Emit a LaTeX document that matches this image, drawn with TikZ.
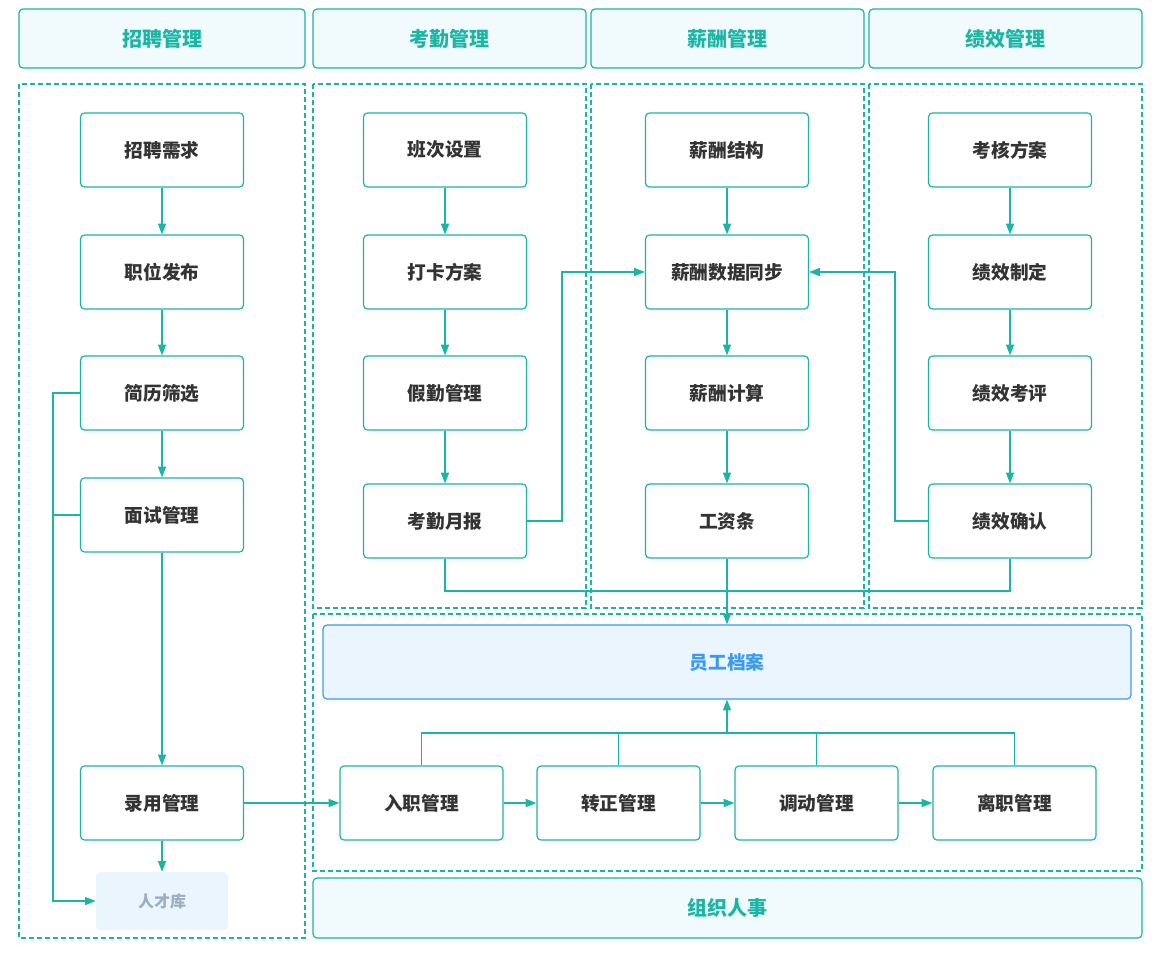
\documentclass[tikz,border=0pt]{standalone}
\usepackage{fontspec}
\newfontfamily\cjk{Noto Sans CJK SC}
\usetikzlibrary{arrows.meta, positioning}
\definecolor{teal1}{HTML}{19B5A5}
\definecolor{headfill}{HTML}{F1FAFD}
\definecolor{blue1}{HTML}{3A9BEF}
\definecolor{bluefill}{HTML}{EAF5FE}
\definecolor{gray1}{HTML}{9AB0BE}
\definecolor{text1}{HTML}{333333}

\tikzset{
    box/.style={draw=teal1, line width=0.9pt, rounded corners=3pt, fill=white,
        minimum width=163*0.75pt, minimum height=74*0.75pt, inner sep=0pt,
        text=text1, font=\cjk\bfseries\fontsize{14pt}{16pt}\selectfont},
    head/.style={draw=teal1, line width=0.9pt, rounded corners=3pt, fill=headfill,
        inner sep=0pt, text=teal1, font=\cjk\bfseries\fontsize{15pt}{17pt}\selectfont},
    panel/.style={draw=teal1, line width=0.8pt, dash pattern=on 4pt off 2pt},
    link/.style={draw=teal1, line width=0.9pt, -{Triangle[length=8pt, width=6pt]}},
    line/.style={draw=teal1, line width=0.9pt},
}

\begin{document}
\begin{tikzpicture}[x=0.75pt, y=-0.75pt]
    \useasboundingbox (0, 0) rectangle (1156, 961);

    % headers
    \node [head, minimum width=286*0.75pt, minimum height=59*0.75pt] (h1) at (162, 38.5) {招聘管理};
    \node [head, minimum width=273*0.75pt, minimum height=59*0.75pt] (h2) at (449.5, 38.5) {考勤管理};
    \node [head, minimum width=273*0.75pt, minimum height=59*0.75pt] (h3) at (727.5, 38.5) {薪酬管理};
    \node [head, minimum width=273*0.75pt, minimum height=59*0.75pt] (h4) at (1005.5, 38.5) {绩效管理};
    \node [head, minimum width=829*0.75pt, minimum height=60*0.75pt] (h5) at (727.5, 908) {组织人事};

    % panels
    \draw [panel] (19, 84) rectangle (305, 938);
    \draw [panel] (313, 84) rectangle (586, 608);
    \draw [panel] (591, 84) rectangle (864, 608);
    \draw [panel] (869, 84) rectangle (1142, 608);
    \draw [panel] (313, 614) rectangle (1142, 871);

    % 招聘
    \node [box] (zpxq) at (162, 150) {招聘需求};
    \node [box] (zwfb) at (162, 272) {职位发布};
    \node [box] (jlsx) at (162, 393) {简历筛选};
    \node [box] (msgl) at (162, 515) {面试管理};
    \node [box] (lygl) at (162, 803) {录用管理};
    \node [fill=bluefill, rounded corners=3pt, minimum width=132*0.75pt, minimum height=58*0.75pt,
        inner sep=0pt, text=gray1, font=\cjk\bfseries\fontsize{12pt}{14pt}\selectfont] (rck) at (162, 901) {人才库};

    % 考勤
    \node [box] (bcsz) at (445, 150) {班次设置};
    \node [box] (dkfa) at (445, 272) {打卡方案};
    \node [box] (jqgl) at (445, 393) {假勤管理};
    \node [box] (kqyb) at (445, 521) {考勤月报};

    % 薪酬
    \node [box] (xcjg) at (727, 150) {薪酬结构};
    \node [box] (xcsj) at (727, 272) {薪酬数据同步};
    \node [box] (xcjs) at (727, 393) {薪酬计算};
    \node [box] (gzt) at (727, 521) {工资条};

    % 绩效
    \node [box] (khfa) at (1010, 150) {考核方案};
    \node [box] (jxzd) at (1010, 272) {绩效制定};
    \node [box] (jxkp) at (1010, 393) {绩效考评};
    \node [box] (jxqr) at (1010, 521) {绩效确认};

    % 组织人事
    \node [box, draw=blue1, fill=bluefill, text=blue1, minimum width=808*0.75pt] (ygda) at (727, 662) {员工档案};
    \node [box] (rzgl) at (421.5, 803) {入职管理};
    \node [box] (zzgl) at (618.5, 803) {转正管理};
    \node [box] (ddgl) at (816.5, 803) {调动管理};
    \node [box] (lzgl) at (1014.5, 803) {离职管理};

    % vertical flows
    \draw [link] (zpxq) -- (zwfb);
    \draw [link] (zwfb) -- (jlsx);
    \draw [link] (jlsx) -- (msgl);
    \draw [link] (msgl) -- (lygl);
    \draw [link] (lygl) -- (rck);
    \draw [link] (bcsz) -- (dkfa);
    \draw [link] (dkfa) -- (jqgl);
    \draw [link] (jqgl) -- (kqyb);
    \draw [link] (xcjg) -- (xcsj);
    \draw [link] (xcsj) -- (xcjs);
    \draw [link] (xcjs) -- (gzt);
    \draw [link] (khfa) -- (jxzd);
    \draw [link] (jxzd) -- (jxkp);
    \draw [link] (jxkp) -- (jxqr);

    % cross links
    \draw [link] (kqyb.east) -| (562, 272) -- (xcsj.west);
    \draw [link] (jxqr.west) -| (895, 272) -- (xcsj.east);
    \draw [line] (kqyb.south) |- (727, 591) -| (jxqr.south);
    \draw [link] (gzt) -- (ygda);
    \draw [link] (jlsx.west) -| (53, 901) -- (rck.west);
    \draw [line] (msgl.west) -- (53, 515);

    % 组织人事 flows
    \draw [link] (lygl) -- (rzgl);
    \draw [link] (rzgl) -- (zzgl);
    \draw [link] (zzgl) -- (ddgl);
    \draw [link] (ddgl) -- (lzgl);
    \draw [line] (rzgl.north) |- (727, 733) -| (lzgl.north);
    \draw [line] (zzgl.north) -- (618.5, 733);
    \draw [line] (ddgl.north) -- (816.5, 733);
    \draw [link] (727, 733) -- (ygda.south);
\end{tikzpicture}
\end{document}
